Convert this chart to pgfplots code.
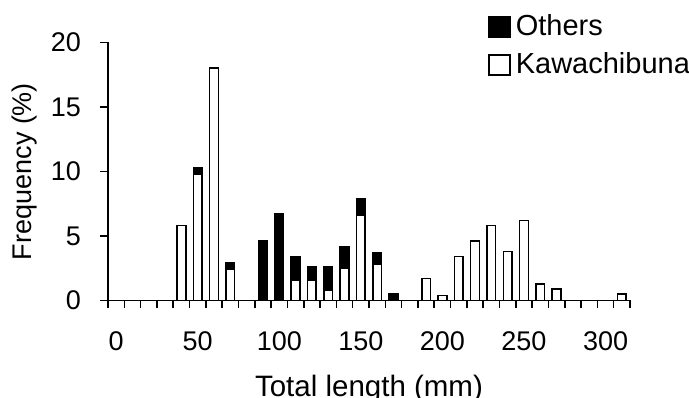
\documentclass[border=0pt]{standalone}
\usepackage{pgfplots}
\pgfplotsset{compat=1.18}
\usepackage{fontspec}
\setmainfont{Liberation Sans}
\begin{document}
\fontsize{27}{32}\selectfont
\begin{tikzpicture}
\begin{axis}[
  name=ax,
  at={(0,0)}, anchor=south west,
  scale only axis,
  width=522pt, height=258pt,
  xmin=-5, xmax=315,
  ymin=0, ymax=20,
  axis x line=bottom, axis y line=left,
  axis line style={line width=1.6pt,-},
  every tick/.style={line width=1.6pt,black},
  tick align=outside,
  major tick length=8pt,
  xtick={-5,5,...,315},
  xticklabels={},
  extra x ticks={0,50,100,150,200,250,300},
  extra x tick labels={0,50,100,150,200,250,300},
  extra x tick style={major tick length=0pt, xticklabel style={yshift=-22pt}},
  ytick={0,5,10,15,20},
  /pgf/number format/assume math mode=true,
  yticklabel style={xshift=-10pt},
  ybar stacked,
  bar width=8.7pt,
  xlabel={Total length (mm)},
  ylabel={Frequency (\%)},
  xlabel style={at={(axis description cs:0.5,0)}, anchor=base, yshift=-96.5pt, font=\fontsize{29.5}{34}\selectfont},
  ylabel style={at={(axis description cs:-0.159,0.5)}, anchor=center},
  legend style={draw=none, fill=none, at={(axis description cs:0.728,1.11)}, anchor=north west,
    inner sep=0pt, row sep=13pt, nodes={inner sep=0pt, anchor=west}, column sep=5pt,
    font=\fontsize{29}{34}\selectfont},
  legend cell align=left,
  reverse legend,
  legend image code/.code={\draw[#1] (0pt,-10pt) rectangle (21pt,10pt);},
]
\addplot[draw=black, line width=1.6pt, fill=white] coordinates {
(40,5.8) (50,9.8) (60,18.0) (70,2.4) (90,0) (100,0) (110,1.6) (120,1.6) (130,0.8) (140,2.5) (150,6.6) (160,2.8) (170,0) (190,1.7) (200,0.4) (210,3.4) (220,4.6) (230,5.8) (240,3.8) (250,6.2) (260,1.3) (270,0.9) (310,0.5)};
\addplot[draw=black, line width=1.6pt, fill=black] coordinates {
(40,0) (50,0.5) (60,0) (70,0.5) (90,4.6) (100,6.7) (110,1.8) (120,1.0) (130,1.8) (140,1.7) (150,1.3) (160,0.9) (170,0.5) (190,0) (200,0) (210,0) (220,0) (230,0) (240,0) (250,0) (260,0) (270,0) (310,0)};
\legend{Kawachibuna,Others}
\end{axis}
\pgfresetboundingbox
\path[use as bounding box] (-108pt,-97.5pt) rectangle (581pt,300.5pt);
\end{tikzpicture}
\end{document}
